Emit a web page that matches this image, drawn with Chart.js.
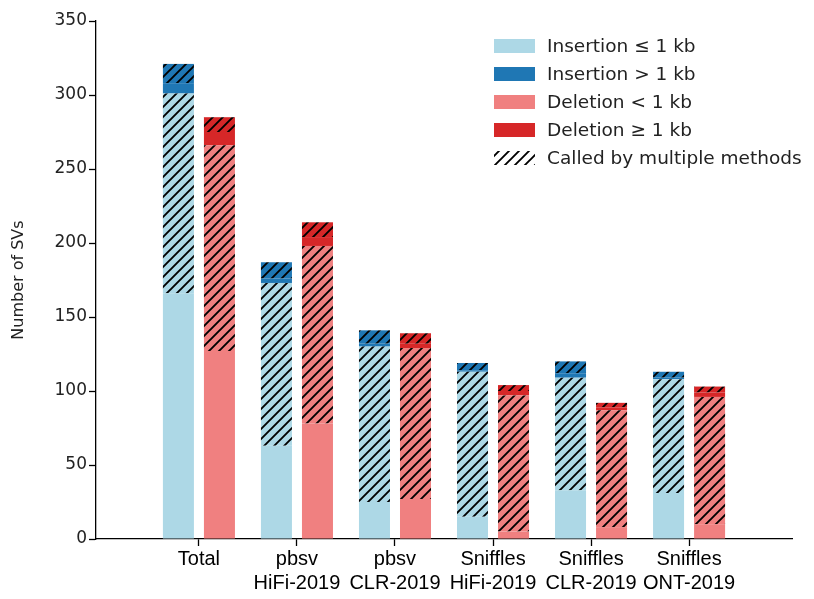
<!DOCTYPE html>
<html lang="en">
<head>
  <meta charset="UTF-8">
  <title>Number of SVs</title>
  <script src="https://cdn.jsdelivr.net/npm/chart.js"></script>
  <style>
    html, body { margin: 0; padding: 0; background: #fff; }
  </style>
</head>
<body>
  <canvas id="svChart" width="814" height="599"></canvas>

  <script>
    // x categories (tick labels, one array per line)
    const categories = [
      ['Total'],
      ['pbsv', 'HiFi-2019'],
      ['pbsv', 'CLR-2019'],
      ['Sniffles', 'HiFi-2019'],
      ['Sniffles', 'CLR-2019'],
      ['Sniffles', 'ONT-2019']
    ];
    const yTicks = [0, 50, 100, 150, 200, 250, 300, 350];

    // insertions: small (<= 1 kb) and large (> 1 kb), single method / multiple methods
    const insSmallSingle = [166, 63, 25, 15, 33, 31];
    const insSmallMulti  = [135, 110, 105, 98, 76, 77];
    const insLargeSingle = [7, 3, 2, 1, 3, 1];
    const insLargeMulti  = [13, 11, 9, 5, 8, 4];

    // deletions: small (< 1 kb) and large (>= 1 kb), single method / multiple methods
    const delSmallSingle = [127, 78, 27, 5, 8, 10];
    const delSmallMulti  = [139, 120, 102, 92, 79, 86];
    const delLargeSingle = [9, 6, 3, 3, 2, 3];
    const delLargeMulti  = [10, 10, 7, 4, 3, 4];

    const legendNames = ['Insertion ≤ 1 kb', 'Insertion > 1 kb', 'Deletion < 1 kb',
                         'Deletion ≥ 1 kb', 'Called by multiple methods'];

    const LIGHT_BLUE = '#add8e6';
    const DARK_BLUE = '#1f77b4';
    const LIGHT_RED = '#f08080';
    const DARK_RED = '#d62728';

    const canvas = document.getElementById('svChart');
    const ctx = canvas.getContext('2d');

    // diagonal "//" hatch on top of a fill colour
    function hatch(color) {
      const c = document.createElement('canvas');
      c.width = 10;
      c.height = 10;
      const g = c.getContext('2d');
      if (color) {
        g.fillStyle = color;
        g.fillRect(0, 0, 10, 10);
      }
      g.strokeStyle = '#000';
      g.lineWidth = 1.9;
      g.beginPath();
      g.moveTo(-2, 12); g.lineTo(12, -2);
      g.moveTo(-2, 2); g.lineTo(2, -2);
      g.moveTo(8, 12); g.lineTo(12, 8);
      g.stroke();
      return ctx.createPattern(c, 'repeat');
    }

    const toPoints = vals => vals.map((v, i) => ({ x: i, y: v }));

    function ds(vals, fill, stack) {
      return { data: toPoints(vals), backgroundColor: fill, borderWidth: 0, stack: stack };
    }

    const datasets = [
      ds(insSmallSingle, LIGHT_BLUE, 'ins'),
      ds(insSmallMulti, hatch(LIGHT_BLUE), 'ins'),
      ds(insLargeSingle, DARK_BLUE, 'ins'),
      ds(insLargeMulti, hatch(DARK_BLUE), 'ins'),
      ds(delSmallSingle, LIGHT_RED, 'del'),
      ds(delSmallMulti, hatch(LIGHT_RED), 'del'),
      ds(delLargeSingle, DARK_RED, 'del'),
      ds(delLargeMulti, hatch(DARK_RED), 'del')
    ];

    const legendFills = [LIGHT_BLUE, DARK_BLUE, LIGHT_RED, DARK_RED, hatch(null)];

    // legend drawn inside the plot, top right
    const legendBox = {
      id: 'legendBox',
      afterDraw(chart) {
        const c = chart.ctx;
        c.save();
        c.font = '18.5px "DejaVu Sans"';
        c.textBaseline = 'middle';
        legendNames.forEach((name, i) => {
          const y = 46 + i * 28;
          c.fillStyle = legendFills[i];
          c.fillRect(494, y - 7, 41, 14);
          c.fillStyle = '#222';
          c.fillText(name, 547, y + 1);
        });
        c.restore();
      }
    };

    new Chart(ctx, {
      type: 'bar',
      data: { datasets: datasets },
      plugins: [legendBox],
      options: {
        responsive: false,
        animation: false,
        layout: { padding: { top: 21, right: 22, left: 0, bottom: 0 } },
        datasets: { bar: { categoryPercentage: 0.837, barPercentage: 0.756 } },
        plugins: {
          legend: { display: false },
          tooltip: { enabled: false }
        },
        scales: {
          x: {
            type: 'linear',
            stacked: true,
            offset: false,
            min: -1.05,
            max: 6.05,
            afterBuildTicks: scale => {
              scale.ticks = categories.map((_, i) => ({ value: i }));
            },
            afterFit: scale => { scale.height = 60; },
            ticks: {
              callback: value => categories[value],
              color: '#000',
              font: { family: '"Liberation Sans", Arial', size: 20 },
              padding: 1,
              maxRotation: 0,
              autoSkip: false
            },
            grid: {
              offset: false,
              drawOnChartArea: false,
              drawTicks: true,
              tickLength: 7,
              tickWidth: 1.3,
              color: '#000'
            },
            border: { display: true, color: '#000', width: 1.3 }
          },
          y: {
            stacked: true,
            min: 0,
            max: 350,
            afterBuildTicks: scale => {
              scale.ticks = yTicks.map(v => ({ value: v }));
            },
            afterFit: scale => { scale.width = 96; },
            ticks: {
              color: '#222',
              font: { family: '"DejaVu Sans"', size: 17 },
              padding: 2
            },
            grid: {
              drawOnChartArea: false,
              drawTicks: true,
              tickLength: 7,
              tickWidth: 1.3,
              color: '#000'
            },
            border: { display: true, color: '#000', width: 1.3 },
            title: {
              display: true,
              text: 'Number of SVs',
              color: '#222',
              font: { family: '"DejaVu Sans"', size: 16 },
              padding: { top: 9, bottom: 0 }
            }
          }
        }
      }
    });
  </script>
</body>
</html>
